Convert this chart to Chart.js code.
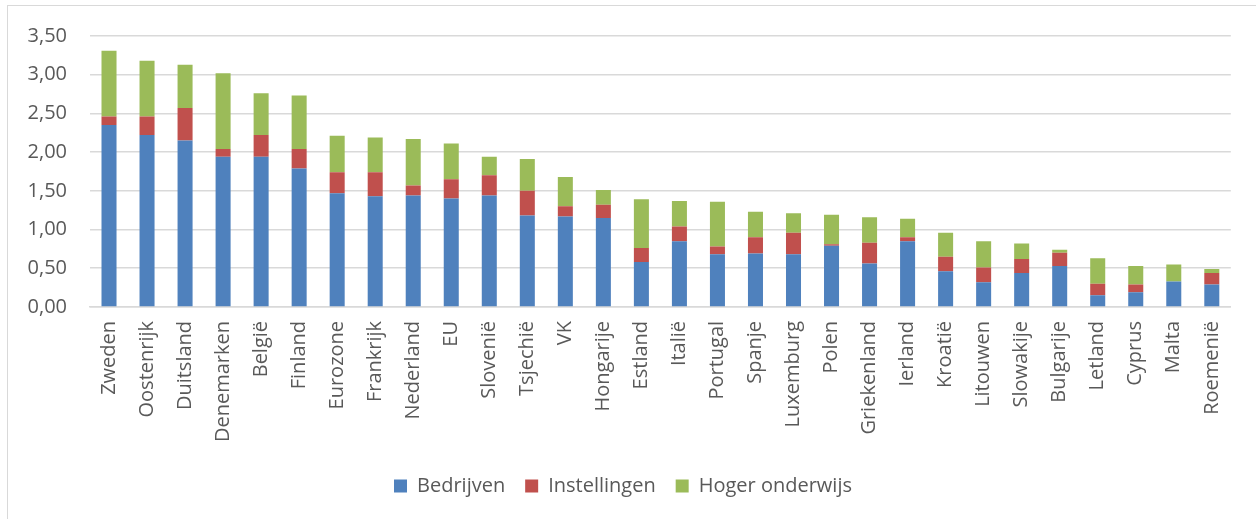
<!DOCTYPE html>
<html>
<head>
<meta charset="utf-8">
<script src="https://cdn.jsdelivr.net/npm/chart.js@4"></script>
<style>
    html, body { margin: 0; padding: 0; background: #fff; }
    body { width: 1256px; height: 519px; position: relative; overflow: hidden; }
    #frame {
        position: absolute; left: 7px; top: 5px; width: 1300px; height: 600px;
        border-left: 1.5px solid #d9d9d9; border-top: 1.5px solid #d9d9d9;
    }
    #wrap { position: absolute; left: 8px; top: 1px; width: 1242px; height: 518px; }
</style>
</head>
<body>
<div id="frame"></div>
<div id="wrap"><canvas id="chart"></canvas></div>
<script>
// Categories and series
const countries = [
    'Zweden', 'Oostenrijk', 'Duitsland', 'Denemarken', 'België', 'Finland',
    'Eurozone', 'Frankrijk', 'Nederland', 'EU', 'Slovenië', 'Tsjechië', 'VK',
    'Hongarije', 'Estland', 'Italië', 'Portugal', 'Spanje', 'Luxemburg', 'Polen',
    'Griekenland', 'Ierland', 'Kroatië', 'Litouwen', 'Slowakije', 'Bulgarije',
    'Letland', 'Cyprus', 'Malta', 'Roemenië'
];
const bedrijven = [2.35, 2.22, 2.15, 1.94, 1.94, 1.79, 1.47, 1.43, 1.44, 1.40, 1.44, 1.18, 1.17, 1.15, 0.58,
    0.85, 0.68, 0.69, 0.68, 0.79, 0.56, 0.85, 0.46, 0.32, 0.44, 0.53, 0.15, 0.19, 0.33, 0.29];
const instellingen = [0.11, 0.24, 0.42, 0.10, 0.28, 0.25, 0.27, 0.31, 0.13, 0.25, 0.26, 0.32, 0.13, 0.17, 0.18,
    0.19, 0.10, 0.21, 0.28, 0.02, 0.27, 0.05, 0.19, 0.19, 0.18, 0.17, 0.15, 0.10, 0.00, 0.15];
const hogerOnderwijs = [0.85, 0.72, 0.56, 0.98, 0.54, 0.69, 0.47, 0.45, 0.60, 0.46, 0.24, 0.41, 0.38, 0.19, 0.63,
    0.33, 0.58, 0.33, 0.25, 0.38, 0.33, 0.24, 0.31, 0.34, 0.20, 0.04, 0.33, 0.24, 0.22, 0.05];

const textColor = '#595959';
const font = { family: '"Open Sans", sans-serif', size: 20 };

const ctx = document.getElementById('chart').getContext('2d');
new Chart(ctx, {
    type: 'bar',
    data: {
        labels: countries,
        datasets: [
            { label: 'Bedrijven', data: bedrijven, backgroundColor: '#4f81bd' },
            { label: 'Instellingen', data: instellingen, backgroundColor: '#c0504d' },
            { label: 'Hoger onderwijs', data: hogerOnderwijs, backgroundColor: '#9bbb59' }
        ]
    },
    options: {
        responsive: true,
        maintainAspectRatio: false,
        animation: false,
        datasets: {
            bar: { categoryPercentage: 1, barPercentage: 0.395, borderWidth: 0 }
        },
        layout: { padding: { top: 12, right: 12, bottom: 13, left: 0 } },
        plugins: {
            tooltip: { enabled: false },
            legend: {
                position: 'bottom',
                labels: {
                    color: textColor,
                    font: font,
                    boxWidth: 13,
                    boxHeight: 13,
                    padding: 20
                }
            }
        },
        scales: {
            x: {
                stacked: true,
                grid: { display: false, drawTicks: false },
                border: { display: true, color: '#d9d9d9', width: 1.5 },
                ticks: {
                    color: textColor,
                    font: font,
                    minRotation: 90,
                    maxRotation: 90,
                    autoSkip: false,
                    padding: 14
                }
            },
            y: {
                stacked: true,
                min: 0,
                max: 3.5,
                afterFit: scale => { scale.width = 82; },
                grid: { color: '#d9d9d9', lineWidth: 1.5, drawTicks: false },
                border: { display: false },
                ticks: {
                    stepSize: 0.5,
                    color: textColor,
                    font: font,
                    padding: 23,
                    callback: v => v.toFixed(2).replace('.', ',')
                }
            }
        }
    }
});
</script>
</body>
</html>
